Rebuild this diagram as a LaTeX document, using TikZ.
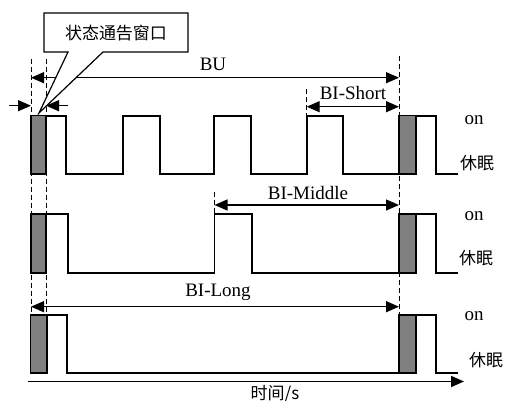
\documentclass[tikz,border=0pt]{standalone}
\usepackage{fontspec}
\setmainfont{Liberation Serif}
\newfontfamily\cjk{Noto Sans CJK SC}
\usetikzlibrary{arrows.meta}
\begin{document}
\begin{tikzpicture}[x=1pt,y=-1pt,
  wave/.style={line width=1.8pt,line join=miter},
  gbox/.style={fill=gray,draw=black,line width=1.6pt},
  dline/.style={line width=0.9pt,dash pattern=on 5pt off 3pt},
  dim/.style={line width=1.3pt,{Triangle[length=13pt,width=11pt]}-{Triangle[length=13pt,width=11pt]}},
  onedim/.style={line width=1.3pt,-{Triangle[length=13pt,width=11pt]}},
  lat/.style={font=\fontsize{19}{22}\selectfont,inner sep=0pt},
  zh/.style={font=\cjk\fontsize{17}{20}\selectfont,inner sep=0pt}]
\useasboundingbox (0,0) rectangle (507,401);
% dashed guide lines
\coordinate (d1t) at (31,59);  \coordinate (d1b) at (31,315);
\coordinate (d2t) at (46,59);  \coordinate (d2b) at (46,315);
\coordinate (d3t) at (399,56); \coordinate (d3b) at (399,315);
\coordinate (d4t) at (306.7,89); \coordinate (d4b) at (306.7,115.7);
\coordinate (d5t) at (214.5,192); \coordinate (d5b) at (214.5,214.3);
\draw[dline] (d1t) -- (d1b);
\draw[dline] (d2t) -- (d2b);
\draw[dline] (d3t) -- (d3b);
\draw[dline] (d4t) -- (d4b);
\draw[dline] (d5t) -- (d5b);
% waveform 1
\draw[gbox] (31,115.7) rectangle (46,174);
\draw[gbox] (399,115.7) rectangle (416,174);
\draw[wave] (46,115.7) -- (65.7,115.7) -- (65.7,174) -- (122.7,174) -- (122.7,115.7) -- (160,115.7) -- (160,174) -- (214,174) -- (214,115.7) -- (251,115.7) -- (251,174) -- (306.7,174) -- (306.7,115.7) -- (343,115.7) -- (343,174) -- (399,174);
\draw[wave] (416,115.7) -- (436,115.7) -- (436,174) -- (458,174);
% waveform 2
\draw[gbox] (31,214.3) rectangle (46,273.3);
\draw[gbox] (399,214.3) rectangle (416,273.3);
\draw[wave] (46,214.3) -- (68,214.3) -- (68,273.3) -- (214.5,273.3) -- (214.5,214.3) -- (251.7,214.3) -- (251.7,273.3) -- (399,273.3);
\draw[wave] (416,214.3) -- (436,214.3) -- (436,273.3) -- (458,273.3);
% waveform 3
\draw[gbox] (30.5,315) rectangle (47,373.3);
\draw[gbox] (399,315) rectangle (416,373.3);
\draw[wave] (47,315) -- (67,315) -- (67,373.3) -- (399,373.3);
\draw[wave] (416,315) -- (436,315) -- (436,373.3) -- (458,373.3);
% dimension arrows
\coordinate (bul) at (31,77.7); \coordinate (bur) at (399,77.7);
\draw[dim] (bul) -- (bur);
\node[lat] (bu) at (213,64) {BU};
\coordinate (wa) at (9,105.7); \coordinate (wb) at (31,105.7);
\coordinate (wc) at (68,105.7); \coordinate (wd) at (46,105.7);
\draw[onedim] (wa) -- (wb);
\draw[onedim] (wc) -- (wd);
\coordinate (bsl) at (306.7,106.7); \coordinate (bsr) at (399,106.7);
\draw[dim] (bsl) -- (bsr);
\node[lat] (bis) at (353,93) {BI-Short};
\coordinate (bml) at (214.5,205); \coordinate (bmr) at (399,205);
\draw[dim] (bml) -- (bmr);
\node[lat] (bim) at (308,193) {BI-Middle};
\coordinate (bll) at (31,306.7); \coordinate (blr) at (399,306.7);
\draw[dim] (bll) -- (blr);
\node[lat] (bil) at (218,292) {BI-Long};
% time axis
\coordinate (ta) at (28,381.5); \coordinate (tb) at (464,381.5);
\draw[line width=1.8pt,-{Triangle[length=13pt,width=11pt]}] (ta) -- (tb);
\node[zh,anchor=north] (tl) at (275,385) {时间/s};
% state labels
\node[lat] (on1) at (474,120) {on};
\node[zh] (s1) at (477,163) {休眠};
\node[lat] (on2) at (474,216) {on};
\node[zh] (s2) at (476,258) {休眠};
\node[lat] (on3) at (474,316) {on};
\node[zh] (s3) at (486,360) {休眠};
% callout
\draw[fill=white,line width=1.2pt,line join=miter] (44,13) -- (188,13) -- (188,52) -- (103,52) -- (39,113) -- (68,52) -- (44,52) -- cycle;
\node[zh] (co) at (116,33) {状态通告窗口};
\end{tikzpicture}
\end{document}
